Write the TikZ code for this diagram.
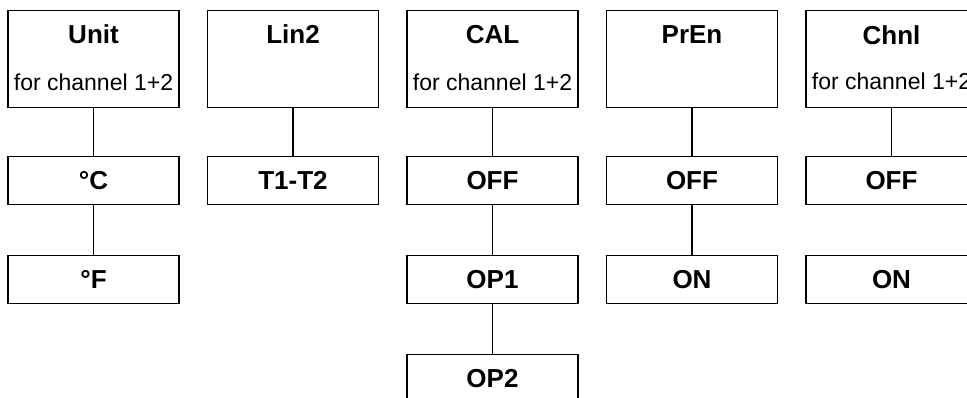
\documentclass[tikz,border=0pt]{standalone}
\usepackage{fontspec}
\setmainfont{Liberation Sans}
\begin{document}
\begin{tikzpicture}[x=1pt,y=-1pt,
  box/.style={draw,line width=1.4pt,minimum width=171pt,inner sep=0pt,anchor=north},
  topbox/.style={box,minimum height=97pt},
  optbox/.style={box,minimum height=48pt,font=\fontsize{26}{26}\selectfont\bfseries},
  ttl/.style={anchor=base,inner sep=0pt,font=\fontsize{26}{26}\selectfont\bfseries},
  sub/.style={anchor=base,inner sep=0pt,font=\fontsize{23}{23}\selectfont},
  link/.style={line width=1.4pt}]
\clip (0,0) rectangle (967,398);
\useasboundingbox (0,0) rectangle (967,398);
% column 1
\node[topbox] (unit) at (93.5,10) {};
\node[ttl] (unitT) at (93.5,44) {Unit};
\node[sub] (unitS) at (93.5,91) {for channel 1+2};
\node[optbox] (degC) at (93.5,156) {°C};
\node[optbox] (degF) at (93.5,255) {°F};
\draw[link] (unit.south) -- (degC.north);
\draw[link] (degC.south) -- (degF.north);
% column 2
\node[topbox] (lin) at (293,10) {};
\node[ttl] (linT) at (293,44) {Lin2};
\node[optbox] (t12) at (293,156) {T1-T2};
\draw[link] (lin.south) -- (t12.north);
% column 3
\node[topbox] (cal) at (492.5,10) {};
\node[ttl] (calT) at (492.5,44) {CAL};
\node[sub] (calS) at (492.5,91) {for channel 1+2};
\node[optbox] (calOff) at (492.5,156) {OFF};
\node[optbox] (op1) at (492.5,255) {OP1};
\node[optbox] (op2) at (492.5,354) {OP2};
\draw[link] (cal.south) -- (calOff.north);
\draw[link] (calOff.south) -- (op1.north);
\draw[link] (op1.south) -- (op2.north);
% column 4
\node[topbox] (pren) at (692,10) {};
\node[ttl] (prenT) at (692,44) {PrEn};
\node[optbox] (prOff) at (692,156) {OFF};
\node[optbox] (prOn) at (692,255) {ON};
\draw[link] (pren.south) -- (prOff.north);
\draw[link] (prOff.south) -- (prOn.north);
% column 5
\node[topbox] (chnl) at (891.5,10) {};
\node[ttl] (chnlT) at (891.5,45) {Chnl};
\node[sub] (chnlS) at (891.5,90) {for channel 1+2};
\node[optbox] (chOff) at (891.5,156) {OFF};
\node[optbox] (chOn) at (891.5,255) {ON};
\draw[link] (chnl.south) -- (chOff.north);
\end{tikzpicture}
\end{document}
